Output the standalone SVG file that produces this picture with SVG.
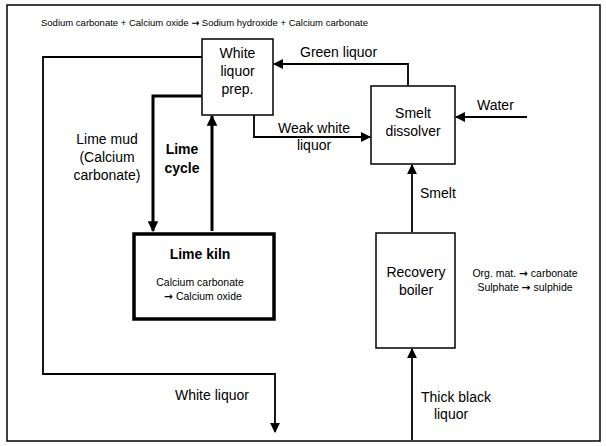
<svg xmlns="http://www.w3.org/2000/svg" width="606" height="446" viewBox="0 0 606 446">
  <style>
    text { font-family: "Liberation Sans", Arial, sans-serif; fill: #000; }
    .lbl { font-size: 14px; }
    .mid { text-anchor: middle; }
    .small { font-size: 10.5px; }
    .tiny { font-size: 9.5px; }
    .bold { font-weight: bold; }
    .arr { font-family: "DejaVu Sans", sans-serif; font-weight: bold; }
    .box { fill: #fff; stroke: #000; stroke-width: 1.5; }
    .kiln { fill: #fff; stroke: #000; stroke-width: 3.5; }
    .flow { fill: none; stroke: #000; stroke-width: 1.8; }
    .thick { fill: none; stroke: #000; stroke-width: 3; }
  </style>
  <defs>
    <marker id="arrow" viewBox="0 0 10 10" refX="9" refY="5" markerWidth="5.5" markerHeight="5.5" orient="auto" markerUnits="strokeWidth">
      <path d="M0,0 L10,5 L0,10 z" fill="#000"/>
    </marker>
    <marker id="arrowT" viewBox="0 0 10 10" refX="9" refY="5" markerWidth="3.6" markerHeight="3.6" orient="auto" markerUnits="strokeWidth">
      <path d="M0,0 L10,5 L0,10 z" fill="#000"/>
    </marker>
  </defs>

  <!-- frame -->
  <rect x="7" y="5" width="593" height="436" fill="#fff" stroke="#000" stroke-width="1.5"/>

  <!-- overall reaction -->
  <text class="tiny" x="41" y="26">Sodium carbonate + Calcium oxide <tspan class="arr">→</tspan> Sodium hydroxide + Calcium carbonate</text>

  <g id="connectors">
    <!-- white liquor out -->
    <path class="flow" d="M202,57 H43 V374 H275 V432" marker-end="url(#arrow)"/>
    <!-- green liquor -->
    <path class="flow" d="M408,86 V64 H274" marker-end="url(#arrow)"/>
    <!-- weak white liquor -->
    <path class="flow" d="M254,115 V137 H370" marker-end="url(#arrow)"/>
    <!-- water -->
    <path class="flow" d="M527,117 H456" marker-end="url(#arrow)"/>
    <!-- lime mud -->
    <path class="thick" d="M202,96 H153 V231" marker-end="url(#arrowT)"/>
    <!-- lime cycle return -->
    <path class="thick" d="M212,231 V116" marker-end="url(#arrowT)"/>
    <!-- smelt -->
    <path class="flow" d="M412,232 V165" marker-end="url(#arrow)"/>
    <!-- thick black liquor -->
    <path class="flow" d="M412,440 V349" marker-end="url(#arrow)"/>

    <text class="lbl" x="300" y="57">Green liquor</text>
    <text class="lbl" x="477" y="110">Water</text>
    <text class="lbl mid" x="314" y="133">Weak white</text>
    <text class="lbl mid" x="314" y="150">liquor</text>
    <text class="lbl mid" x="107" y="144">Lime mud</text>
    <text class="lbl mid" x="107" y="162">(Calcium</text>
    <text class="lbl mid" x="107" y="180">carbonate)</text>
    <text class="lbl mid bold" x="182" y="154">Lime</text>
    <text class="lbl mid bold" x="182" y="173">cycle</text>
    <text class="lbl" x="420" y="198">Smelt</text>
    <text class="lbl" x="175" y="400">White liquor</text>
    <text class="lbl" x="421" y="402">Thick black</text>
    <text class="lbl mid" x="451" y="419">liquor</text>
  </g>

  <g id="white-liquor-prep">
    <rect class="box" x="202" y="39" width="71" height="76"/>
    <text class="lbl mid" x="237.5" y="58">White</text>
    <text class="lbl mid" x="237.5" y="76">liquor</text>
    <text class="lbl mid" x="237.5" y="94">prep.</text>
  </g>

  <g id="smelt-dissolver">
    <rect class="box" x="371" y="86" width="84" height="78"/>
    <text class="lbl mid" x="413" y="118">Smelt</text>
    <text class="lbl mid" x="413" y="136">dissolver</text>
  </g>

  <g id="lime-kiln">
    <rect class="kiln" x="134" y="234" width="140" height="85"/>
    <text class="lbl mid bold" x="200" y="259">Lime kiln</text>
    <text class="small mid" x="200" y="286">Calcium carbonate</text>
    <text class="small mid" x="203" y="300"><tspan class="arr">→</tspan> Calcium oxide</text>
  </g>

  <g id="recovery-boiler">
    <rect class="box" x="376" y="233" width="79" height="115"/>
    <text class="lbl mid" x="416" y="277">Recovery</text>
    <text class="lbl mid" x="416" y="295">boiler</text>
    <text class="small mid" x="525" y="277">Org. mat. <tspan class="arr">→</tspan> carbonate</text>
    <text class="small mid" x="525" y="291">Sulphate <tspan class="arr">→</tspan> sulphide</text>
  </g>
</svg>
